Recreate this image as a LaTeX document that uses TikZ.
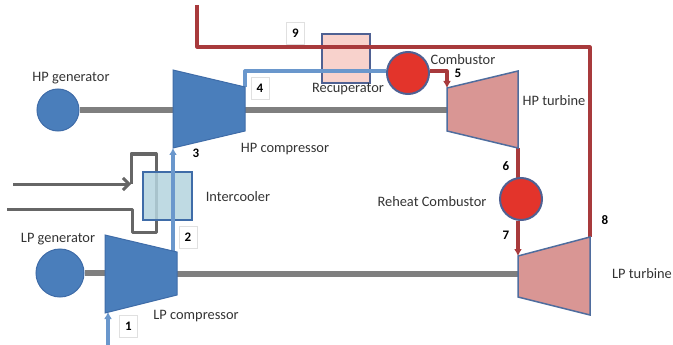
\documentclass[tikz,border=0pt]{standalone}
\usepackage{fontspec}
\setmainfont{Carlito}
\usetikzlibrary{arrows.meta}
\definecolor{compblue}{HTML}{4A7EBB}
\definecolor{compedge}{HTML}{3F6CA8}
\definecolor{flowblue}{HTML}{6A97CC}
\definecolor{hotred}{HTML}{A83A3C}
\definecolor{turbfill}{HTML}{D99694}
\definecolor{turbedge}{HTML}{4F6D9E}
\definecolor{shaftgray}{HTML}{7F7F7F}
\definecolor{loopgray}{HTML}{666666}
\definecolor{burnred}{HTML}{E3342B}
\definecolor{burnedge}{HTML}{4F6193}
\definecolor{textgray}{HTML}{333333}
\definecolor{recupfill}{HTML}{F8D2CC}
\definecolor{coolfill}{HTML}{B4D4DE}
\tikzset{
  compshape/.style={fill=compblue,draw=compedge,line width=1pt},
  turbshape/.style={fill=turbfill,draw=turbedge,line width=1.5pt},
  shaftline/.style={shaftgray,line width=6.5pt},
  coldflow/.style={flowblue,line width=3.2pt},
  hotflow/.style={hotred,line width=3.2pt},
  gasflow/.style={loopgray,line width=3pt},
  gencircle/.style={circle,fill=compblue,draw=compedge,line width=1pt,minimum size=#1,inner sep=0pt},
  burner/.style={circle,fill=burnred,draw=burnedge,line width=2pt,minimum size=42pt,inner sep=0pt},
  lab/.style={text=textgray,font=\fontsize{14.4}{16}\selectfont,inner sep=0pt},
  num/.style={text=black,font=\fontsize{13}{15}\selectfont\bfseries,inner sep=0pt},
  numbox/.style={draw=black!12,fill=white,line width=.7pt,minimum width=18pt,minimum height=22pt,inner sep=0pt,font=\fontsize{13}{15}\selectfont\bfseries},
  tip/.style={-{Latex[length=7pt,width=8pt]}}
}
\begin{document}
\begin{tikzpicture}[x=1pt,y=-1pt]
\useasboundingbox (0,0) rectangle (673,345);
% anchor points
\coordinate (lpcA) at (105,235); \coordinate (lpcB) at (177,252);
\coordinate (lpcC) at (177,295); \coordinate (lpcD) at (105,313);
\coordinate (hpcA) at (173,70);  \coordinate (hpcB) at (245,87);
\coordinate (hpcC) at (245,131); \coordinate (hpcD) at (173,148);
\coordinate (hptA) at (447,88);  \coordinate (hptB) at (518,71);
\coordinate (hptC) at (518,148); \coordinate (hptD) at (447,131);
\coordinate (lptA) at (518,256); \coordinate (lptB) at (590,237);
\coordinate (lptC) at (590,315); \coordinate (lptD) at (518,297);
\coordinate (in1) at (108,345);
\coordinate (in1end) at (108,312);
\coordinate (out9) at (197,5);
\coordinate (hwin) at (13,184);
\coordinate (hwout) at (7,209);
\coordinate (gin) at (131,184);
% generators and shafts
\node[gencircle=48pt] (lpgen) at (60,273) {};
\node[gencircle=42pt] (hpgen) at (58,110) {};
\draw[shaftline] (lpgen.east) -- (lpcA |- lpgen.east);
\draw[shaftline] (177,274) -- (518,274);
\draw[shaftline] (hpgen.east) -- (447,110);
% number box 9 behind the exhaust line
\node[numbox] (b9) at (295.5,33.5) {9};
% recuperator
\node[fill=recupfill,draw=burnedge,line width=1.5pt,minimum width=48pt,minimum height=49pt,inner sep=0pt] (recup) at (346,58.5) {};
% hot gas out
\draw[hotflow,line join=round] (out9) -- (197,47) -- (590,47) -- (lptB);
% cold path
\node[burner] (comb) at (408,73) {};
\draw[coldflow,line join=round] (hpcB) -- (245,71) -- (comb.west |- 0,71);
\draw[hotflow,tip,line join=round] (comb.east |- 0,71) -- (447,71) -- (hptA);
% intercooler loop
\draw[gasflow,-{Straight Barb[length=6pt,width=12pt]}] (hwin) -- (gin);
\draw[gasflow,line join=round] (gin) -- (131,154) -- (156,154) -- (156,232) -- (132,232) -- (132,209) -- (hwout);
\node[fill=coolfill,fill opacity=.85,draw=compedge,line width=1.3pt,minimum width=49pt,minimum height=48pt,inner sep=0pt] (ic) at (167.5,196) {};
\draw[coldflow,tip] (173,252) -- (hpcD);
\draw[coldflow,tip] (in1) -- (in1end);
% machines
\filldraw[compshape] (lpcA) -- (lpcB) -- (lpcC) -- (lpcD) -- cycle;
\filldraw[compshape] (hpcA) -- (hpcB) -- (hpcC) -- (hpcD) -- cycle;
\draw[hotflow] (hptC) -- (518,178);
\node[burner] (reheat) at (521,199) {};
\draw[hotflow,tip] (reheat.south -| 518,0) -- (lptA);
\filldraw[turbshape] (hptA) -- (hptB) -- (hptC) -- (hptD) -- cycle;
\filldraw[turbshape] (lptA) -- (lptB) -- (lptC) -- (lptD) -- cycle;
% numbers
\node[numbox] (b1) at (128.5,326.5) {1};
\node[numbox] (b2) at (188,237) {2};
\node[numbox] (b4) at (260,88) {4};
\node[num] at (196,153) {3};
\node[num] at (458,73) {5};
\node[num] at (506,166) {6};
\node[num] at (506,235) {7};
\node[num] at (605,220) {8};
% labels
\node[lab] at (71,78) {HP generator};
\node[lab] at (58,239) {LP generator};
\node[lab] at (196,316) {LP compressor};
\node[lab] at (285,149) {HP compressor};
\node[lab] at (238,197) {Intercooler};
\node[lab] at (348,89) {Recuperator};
\node[lab] at (463,60) {Combustor};
\node[lab] at (554,101) {HP turbine};
\node[lab] at (432,202) {Reheat Combustor};
\node[lab] at (642,274) {LP turbine};
\end{tikzpicture}
\end{document}
